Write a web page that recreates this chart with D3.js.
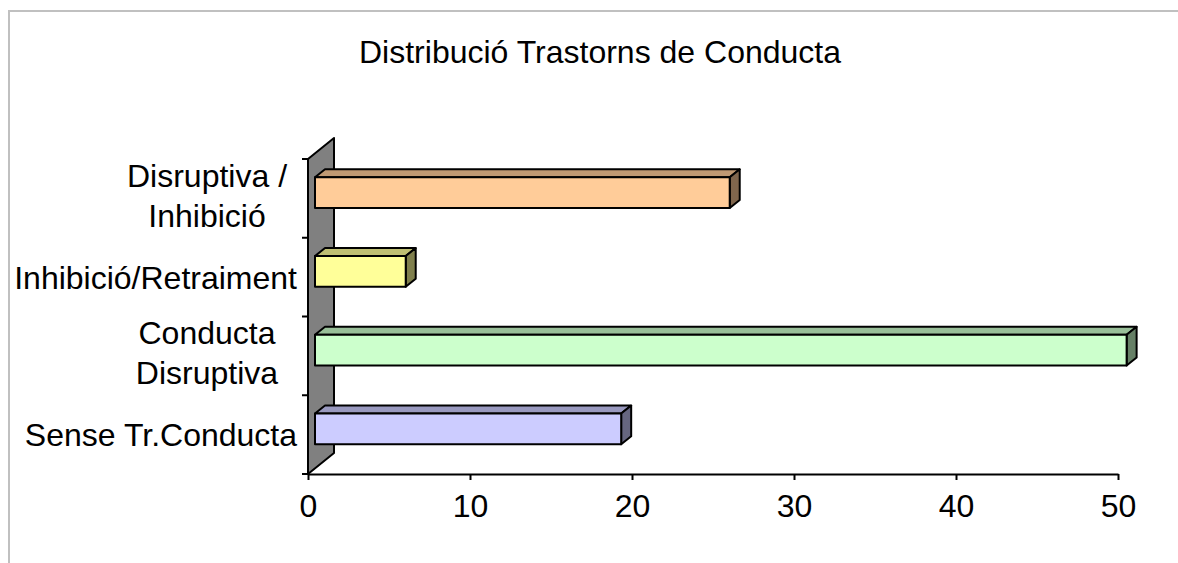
<!DOCTYPE html>
<html>
<head>
<meta charset="utf-8">
<script src="https://cdn.jsdelivr.net/npm/d3@7"></script>
<style>
  body { margin: 0; background: #fff; }
  svg { display: block; font-family: "Liberation Sans", Arial, sans-serif; }
</style>
</head>
<body>
<svg id="svg" width="1178" height="563"></svg>
<script>
// Chart data (Excel draws the first category at the bottom)
let categories = ["Sense Tr.Conducta", "Conducta Disruptiva", "Inhibició/Retraiment", "Disruptiva / Inhibició"];
let labelLines = [["Sense Tr.Conducta"], ["Conducta", "Disruptiva"], ["Inhibició/Retraiment"], ["Disruptiva /", "Inhibició"]];
let values = [18.9, 50.1, 5.6, 25.6];
let tickValues = [0, 10, 20, 30, 40, 50];
let title = "Distribució Trastorns de Conducta";

// Colours for front / top / side of each bar
let frontColors = ["#ccccff", "#ccffcc", "#ffff99", "#ffcc99"];
let topColors = ["#9999bf", "#99bf99", "#bfbf73", "#bf9973"];
let sideColors = ["#666680", "#668066", "#80804d", "#80664d"];

let svg = d3.select("#svg");

// outer chart border
svg.append("rect")
    .attr("x", 9).attr("y", 11)
    .attr("width", 1200).attr("height", 600)
    .attr("fill", "none")
    .attr("stroke", "#c0c0c0")
    .attr("stroke-width", 2);

svg.append("text")
    .attr("x", 600).attr("y", 63)
    .attr("text-anchor", "middle")
    .style("font-size", "32px")
    .text(title);

let x = d3.scaleLinear().domain([0, 50]).range([308, 1118]);
let y = d3.scaleBand()
    .domain(categories.slice().reverse())
    .range([159, 474])
    .paddingInner(0).paddingOuter(0);

// 3D offsets
let wallDx = 26, wallDy = -21;
let barOffX = 7, barOffY = -5.7;
let barDx = 10, barDy = -8;
let barH = y.bandwidth() * 0.39;

// back wall
svg.append("polygon")
    .attr("points", [[308, 474], [308, 159], [308 + wallDx, 159 + wallDy], [308 + wallDx, 474 + wallDy]].join(" "))
    .attr("fill", "#808080")
    .attr("stroke", "#000")
    .attr("stroke-width", 2)
    .attr("stroke-linejoin", "round");

// category ticks at band boundaries
let boundaries = categories.map(c => y(c)).concat([474]);
svg.selectAll(".ctick").data(boundaries).enter().append("line")
    .attr("x1", 302).attr("x2", 308)
    .attr("y1", d => d).attr("y2", d => d)
    .attr("stroke", "#000").attr("stroke-width", 2);

// value axis
let xAxis = svg.append("g")
    .attr("transform", "translate(0,474)")
    .call(d3.axisBottom(x).tickValues(tickValues).tickSize(6).tickSizeOuter(0).tickPadding(14));
xAxis.select(".domain").attr("stroke", "#000").attr("stroke-width", 2);
xAxis.selectAll(".tick line").attr("stroke", "#000").attr("stroke-width", 2);
xAxis.selectAll(".tick text")
    .attr("fill", "#000")
    .style("font-size", "32px")
    .style("font-family", "'Liberation Sans', Arial, sans-serif");

// bars
categories.forEach(function (c, i) {
    let x0 = x(0) + barOffX;
    let x1 = x(values[i]) + barOffX;
    let cy = y(c) + y.bandwidth() / 2 + barOffY;
    let yt = cy - barH / 2, yb = cy + barH / 2;
    let g = svg.append("g")
        .attr("stroke", "#000")
        .attr("stroke-width", 2)
        .attr("stroke-linejoin", "round");
    g.append("polygon")
        .attr("points", [[x0, yt], [x1, yt], [x1 + barDx, yt + barDy], [x0 + barDx, yt + barDy]].join(" "))
        .attr("fill", topColors[i]);
    g.append("polygon")
        .attr("points", [[x1, yt], [x1 + barDx, yt + barDy], [x1 + barDx, yb + barDy], [x1, yb]].join(" "))
        .attr("fill", sideColors[i]);
    g.append("rect")
        .attr("x", x0).attr("y", yt)
        .attr("width", x1 - x0).attr("height", barH)
        .attr("fill", frontColors[i]);
});

// category labels
let lineH = 40;
categories.forEach(function (c, i) {
    let cy = y(c) + y.bandwidth() / 2;
    let lines = labelLines[i];
    let multi = lines.length > 1;
    let t = svg.append("text")
        .style("font-size", "32px")
        .attr("text-anchor", multi ? "middle" : "end");
    lines.forEach(function (l, j) {
        t.append("tspan")
            .attr("x", multi ? 207 : 297)
            .attr("y", cy + (multi ? 8.5 : 11.5) + (j - (lines.length - 1) / 2) * lineH)
            .text(l);
    });
});
</script>
</body>
</html>
